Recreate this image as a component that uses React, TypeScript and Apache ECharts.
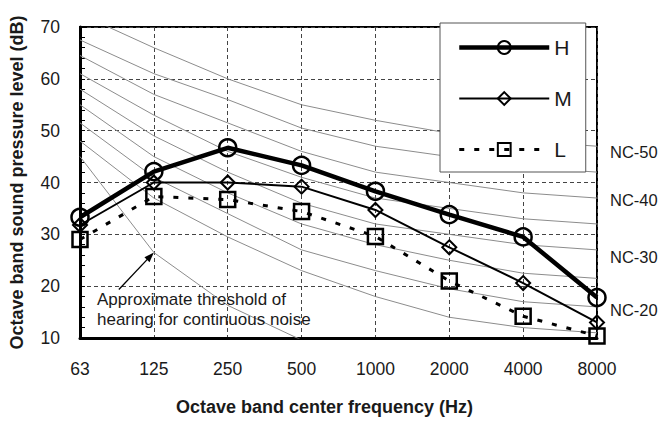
import React, { useEffect, useRef } from 'react';
import * as echarts from 'echarts';

const frequencies = ['63', '125', '250', '500', '1000', '2000', '4000', '8000'];
const yTicks = [10, 70, 10]; // min, max, interval

const seriesH = [33.3, 42.1, 46.7, 43.3, 38.3, 33.8, 29.5, 17.8];
const seriesM = [31.8, 40.0, 40.0, 39.2, 34.7, 27.5, 20.6, 13.0];
const seriesL = [29.0, 37.3, 36.7, 34.4, 29.6, 21.0, 14.2, 10.4];

const nc15 = [48, 37, 29.5, 23, 18, 14, 12, 11];
const nc20 = [51.5, 41, 34, 27, 23, 19.5, 17, 16];
const nc25 = [55, 45, 38, 32, 28, 25, 22.5, 21.5];
const nc30 = [58, 49, 42, 36, 32, 30, 28, 27];
const nc35 = [61, 53, 46, 41, 37, 35, 33, 32];
const nc40 = [64.5, 57, 51.5, 46, 42, 40, 38, 37];
const nc45 = [67.5, 61, 56, 50.5, 47, 45, 43, 42];
const nc50 = [72.5, 66, 60, 55, 52, 49.5, 48, 47];
const threshold = [45, 26.5, 16.3, 9.6, null, null, null, null];

const ncCurves: { name: string; data: number[]; label?: string; dy?: number }[] = [
  { name: 'NC-15', data: nc15 },
  { name: 'NC-20', data: nc20, label: 'NC-20', dy: 3 },
  { name: 'NC-25', data: nc25 },
  { name: 'NC-30', data: nc30, label: 'NC-30', dy: 7 },
  { name: 'NC-35', data: nc35 },
  { name: 'NC-40', data: nc40, label: 'NC-40', dy: 2 },
  { name: 'NC-45', data: nc45 },
  { name: 'NC-50', data: nc50, label: 'NC-50', dy: 6 },
];

const annotationLines = ['Approximate threshold of', 'hearing for continuous noise'];

const FONT = '"Liberation Sans", Arial, Helvetica, sans-serif';
const TEXT = '#1a1a1a';

export default function App() {
  const ref = useRef<HTMLDivElement>(null);

  useEffect(() => {
    if (!ref.current) return;
    const chart = echarts.init(ref.current, undefined, { renderer: 'svg' });

    const gray = '#8c8c8c';
    const ncSeries = ncCurves.map((c) => ({
      name: c.name,
      type: 'line',
      data: c.data,
      symbol: 'none',
      silent: true,
      z: 2,
      clip: true,
      lineStyle: { color: gray, width: 1 },
      endLabel: c.label
        ? {
            show: true,
            formatter: c.label,
            distance: 13,
            offset: [0, c.dy || 0],
            fontSize: 16.5,
            fontFamily: FONT,
            color: TEXT,
          }
        : { show: false },
    }));

    const hollow = { color: 'rgba(0,0,0,0)', borderColor: '#000' };

    chart.setOption({
      animation: false,
      backgroundColor: '#fff',
      textStyle: { fontFamily: FONT, color: TEXT },
      grid: {
        left: 80,
        right: 64,
        top: 27,
        bottom: 82,
        show: true,
        borderColor: '#000',
        borderWidth: 2,
        backgroundColor: '#fff',
      },
      legend: {
        data: ['H', 'M', 'L'],
        orient: 'vertical',
        left: 440,
        top: 23,
        padding: [14, 14, 12, 17],
        itemWidth: 90,
        itemHeight: 16,
        itemGap: 30,
        backgroundColor: '#fff',
        borderColor: '#555',
        borderWidth: 1,
        z: 10,
        lineStyle: { width: 'inherit' },
        textStyle: { fontSize: 21, fontFamily: FONT, color: TEXT },
      },
      xAxis: {
        type: 'category',
        data: frequencies,
        boundaryGap: false,
        name: 'Octave band center frequency (Hz)',
        nameLocation: 'middle',
        nameGap: 60,
        nameTextStyle: {
          fontSize: 18,
          fontWeight: 'bold',
          fontFamily: FONT,
          color: TEXT,
          padding: [0, 28, 0, 0],
        },
        axisLine: { lineStyle: { color: '#000', width: 3 } },
        axisTick: { show: false },
        axisLabel: { fontSize: 17.5, margin: 22, color: TEXT, fontFamily: FONT },
        splitLine: { show: true, lineStyle: { color: '#444', width: 1, type: [4, 3] } },
      },
      yAxis: {
        type: 'value',
        min: yTicks[0],
        max: yTicks[1],
        interval: yTicks[2],
        name: 'Octave band sound pressure level (dB)',
        nameLocation: 'middle',
        nameGap: 54,
        nameTextStyle: { fontSize: 18, fontWeight: 'bold', fontFamily: FONT, color: TEXT },
        axisLine: { show: true, lineStyle: { color: '#000', width: 3 } },
        axisTick: { show: true, inside: true, length: 5, lineStyle: { color: '#000', width: 1 } },
        minorTick: { show: true, splitNumber: 5, length: 5, lineStyle: { color: '#000', width: 1 } },
        axisLabel: { fontSize: 17.5, margin: 20, color: TEXT, fontFamily: FONT },
        splitLine: { show: true, lineStyle: { color: '#444', width: 1, type: [4, 3] } },
      },
      series: [
        ...ncSeries,
        {
          name: 'threshold',
          type: 'line',
          data: threshold,
          symbol: 'none',
          silent: true,
          z: 2,
          clip: true,
          connectNulls: false,
          lineStyle: { color: gray, width: 1 },
        },
        {
          name: 'L',
          type: 'line',
          data: seriesL,
          z: 4,
          symbol: 'rect',
          symbolSize: 15,
          lineStyle: { color: '#000', width: 3, type: [5, 10] },
          itemStyle: { ...hollow, borderWidth: 2.5 },
        },
        {
          name: 'M',
          type: 'line',
          data: seriesM,
          z: 5,
          symbol: 'diamond',
          symbolSize: 14,
          lineStyle: { color: '#000', width: 2 },
          itemStyle: { ...hollow, borderWidth: 2 },
        },
        {
          name: 'H',
          type: 'line',
          data: seriesH,
          z: 6,
          symbol: 'circle',
          symbolSize: 17,
          lineStyle: { color: '#000', width: 4.5 },
          itemStyle: { ...hollow, borderWidth: 2.5 },
        },
      ],
    });

    // Annotation arrow pointing at the threshold curve at 125 Hz
    const tip = chart.convertToPixel({ xAxisIndex: 0, yAxisIndex: 0 }, [frequencies[1], threshold[1] as number]);
    const origin = chart.convertToPixel({ xAxisIndex: 0, yAxisIndex: 0 }, [frequencies[0], 20]);
    if (tip && origin) {
      const sx = tip[0] - 35;
      const sy = tip[1] + 37;
      const dx = tip[0] - sx;
      const dy = tip[1] - sy;
      const len = Math.sqrt(dx * dx + dy * dy);
      const ux = dx / len;
      const uy = dy / len;
      const nx = -uy;
      const ny = ux;
      const L = 10;
      const W = 3.5;
      chart.setOption({
        graphic: [
          {
            type: 'line',
            z: 20,
            shape: { x1: sx, y1: sy, x2: tip[0] - ux * 4, y2: tip[1] - uy * 4 },
            style: { stroke: '#000', lineWidth: 1.3 },
          },
          {
            type: 'polygon',
            z: 20,
            shape: {
              points: [
                [tip[0], tip[1]],
                [tip[0] - ux * L + nx * W, tip[1] - uy * L + ny * W],
                [tip[0] - ux * L - nx * W, tip[1] - uy * L - ny * W],
              ],
            },
            style: { fill: '#000' },
          },
          {
            type: 'text',
            z: 20,
            left: origin[0] + 17,
            top: origin[1] + 3,
            style: {
              text: annotationLines.join('\n'),
              fontSize: 17,
              lineHeight: 20,
              fontFamily: FONT,
              fill: TEXT,
            },
          },
        ],
      });
    }

    return () => chart.dispose();
  }, []);

  return (
    <div
      ref={ref}
      style={{ position: 'fixed', left: 0, top: 0, width: '661px', height: '421px', background: '#fff' }}
    />
  );
}
